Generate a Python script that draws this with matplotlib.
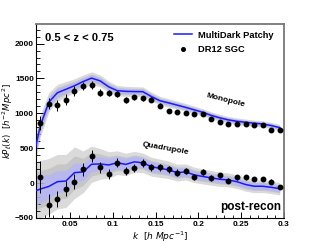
import numpy as np
import matplotlib
matplotlib.use('Agg')
import matplotlib.pyplot as plt
from matplotlib.lines import Line2D
from matplotlib.ticker import MultipleLocator, FixedFormatter, FixedLocator

plt.rcParams['font.family'] = ['Liberation Sans', 'DejaVu Sans']

# measured bins (DR12 SGC, post-recon)
k_data = [0.015, 0.025, 0.035, 0.045, 0.055, 0.065, 0.075, 0.085, 0.095, 0.105,
          0.115, 0.125, 0.135, 0.145, 0.155, 0.165, 0.175, 0.185, 0.195, 0.205,
          0.215, 0.225, 0.235, 0.245, 0.255, 0.265, 0.275, 0.285, 0.295]
mono_data = [858, 1140, 1115, 1195, 1320, 1392, 1406, 1292, 1292, 1274,
             1195, 1227, 1213, 1198, 1112, 1028, 1014, 1010, 991, 985,
             915, 872, 850, 850, 844, 835, 830, 765, 765]
mono_err = [100, 85, 80, 75, 65, 60, 55, 50, 45, 45, 40, 40, 38, 35, 32,
            30, 30, 28, 28, 26, 25, 24, 23, 22, 22, 21, 20, 20, 20]
quad_data = [85, -315, -227, -81, 23, 198, 387, 227, 132, 292,
             174, 212, 292, 227, 227, 198, 150, 178, 93, 162,
             71, 113, 33, 85, 85, 57, 61, 23, -57]
quad_err = [230, 165, 120, 110, 105, 95, 88, 78, 72, 66, 60, 58, 55, 52, 50,
            48, 45, 44, 42, 40, 40, 38, 36, 35, 34, 33, 32, 32, 32]

# MultiDark Patchy mocks: mean, 1-sigma band and spread of the mocks
k_mock = [0.005] + k_data
mono_mean = [260, 820, 1160, 1295, 1345, 1395, 1455, 1505, 1465, 1380, 1325,
             1315, 1312, 1310, 1240, 1180, 1150, 1118, 1085, 1050, 1015,
             970, 935, 906, 886, 872, 858, 848, 825, 795]
mono_sig = [100, 80, 70, 60, 55, 50, 48, 45, 42, 40, 38, 36, 35, 34, 32,
            31, 30, 29, 28, 27, 26, 25, 25, 24, 24, 23, 23, 22, 22, 22]
mono_spread = [200, 160, 140, 120, 110, 100, 95, 90, 85, 80, 75, 72, 70, 68, 64,
               62, 60, 58, 56, 54, 52, 50, 50, 48, 48, 46, 46, 45, 45, 45]
quad_mean = [-130, -85, -48, 20, 30, 150, 160, 270, 275, 260, 292,
             268, 305, 290, 235, 212, 190, 150, 160, 118, 95,
             75, 55, 45, 20, -20, -45, -45, -60, -80]
quad_sig = [230, 200, 170, 160, 150, 140, 120, 110, 100, 95, 90, 85, 80, 76, 72,
            70, 66, 64, 62, 60, 58, 56, 54, 52, 50, 49, 48, 47, 46, 45]
quad_spread = [420, 410, 400, 390, 380, 370, 300, 260, 220, 190, 170, 160, 150, 140, 135,
               130, 125, 120, 115, 110, 108, 105, 102, 100, 98, 95, 92, 90, 90, 90]

fig = plt.figure(figsize=(3.16, 2.43), dpi=100)
ax = fig.add_axes([0.1139, 0.1029, 0.7848, 0.7983])

km = np.array(k_mock)
for mean, sig, spread in [(mono_mean, mono_sig, mono_spread),
                          (quad_mean, quad_sig, quad_spread)]:
    mean = np.array(mean)
    spread = np.array(spread)
    ax.fill_between(km, mean - spread, mean + spread,
                    color='#dadada', lw=0, zorder=1)
    ax.fill_between(km, mean - spread * 0.65, mean + spread * 0.65,
                    color='#c6c6c6', lw=0, zorder=1)
    ax.fill_between(km, mean - np.array(sig), mean + np.array(sig),
                    color='#b6b6f6', alpha=0.85, lw=0, zorder=2)

ax.plot(km, mono_mean, color='#1a1aff', lw=1.1, zorder=3)
ax.plot(km, quad_mean, color='#1a1aff', lw=1.1, zorder=3)

ax.errorbar(k_data, mono_data, yerr=mono_err, fmt='o', color='black', ms=3.2,
            elinewidth=0.7, capsize=0, zorder=4)
ax.errorbar(k_data, quad_data, yerr=quad_err, fmt='o', color='black', ms=3.2,
            elinewidth=0.7, capsize=0, zorder=4)

ax.set_xlim(0.01, 0.3)
ax.set_ylim(-500, 2280)

ax.xaxis.set_major_locator(FixedLocator([0.05, 0.1, 0.15, 0.2, 0.25, 0.3]))
ax.xaxis.set_major_formatter(FixedFormatter(['0.05', '0.1', '0.15', '0.2', '0.25', '0.3']))
ax.xaxis.set_minor_locator(MultipleLocator(0.01))
ax.yaxis.set_major_locator(MultipleLocator(500))
ax.yaxis.set_minor_locator(MultipleLocator(100))
ax.tick_params(axis='x', which='major', direction='in', length=4, width=0.7,
               labelsize=6, pad=2)
ax.tick_params(axis='x', which='minor', direction='in', length=2.2, width=0.6)
ax.tick_params(axis='y', which='major', direction='in', length=5.5, width=0.7,
               labelsize=6, pad=1.5)
ax.tick_params(axis='y', which='minor', direction='in', length=3, width=0.6)
for lab in ax.get_xticklabels() + ax.get_yticklabels():
    lab.set_fontweight('bold')

ax.spines['left'].set_linewidth(0.8)
ax.spines['bottom'].set_linewidth(0.8)
for s in ['top', 'right']:
    ax.spines[s].set_color('#777777')
    ax.spines[s].set_linewidth(1.3)

ax.set_xlabel(r'$k\ \ [h\ Mpc^{-1}]$', fontsize=6.5, labelpad=1)
ax.set_ylabel(r'$kP_{\ell}(k)\ \ [h^{-2}Mpc^{2}]$', fontsize=6.2)
ax.yaxis.set_label_coords(-0.085, 0.5)

ax.text(0.035, 0.955, '0.5 < z < 0.75', transform=ax.transAxes, fontsize=8,
        fontweight='bold', ha='left', va='top')
ax.text(0.232, 1180, 'Monopole', rotation=-14, fontsize=6, fontweight='bold',
        ha='center', va='center')
ax.text(0.161, 500, 'Quadrupole', rotation=-10, fontsize=6, fontweight='bold',
        ha='center', va='center')
ax.text(0.297, -340, 'post-recon', fontsize=8.5, fontweight='bold',
        ha='right', va='center')

handles = [Line2D([], [], color='#1a1aff', lw=1.1),
           Line2D([], [], ls='none', marker='o', color='black', ms=2.6)]
leg = ax.legend(handles, ['MultiDark Patchy', 'DR12 SGC'], loc='upper left',
                bbox_to_anchor=(0.54, 0.985), frameon=False,
                fontsize=6.7, handlelength=2.0, handletextpad=0.6, labelspacing=0.55,
                borderaxespad=0.0)
for t in leg.get_texts():
    t.set_fontweight('bold')

fig.savefig('out.png', dpi=100)
